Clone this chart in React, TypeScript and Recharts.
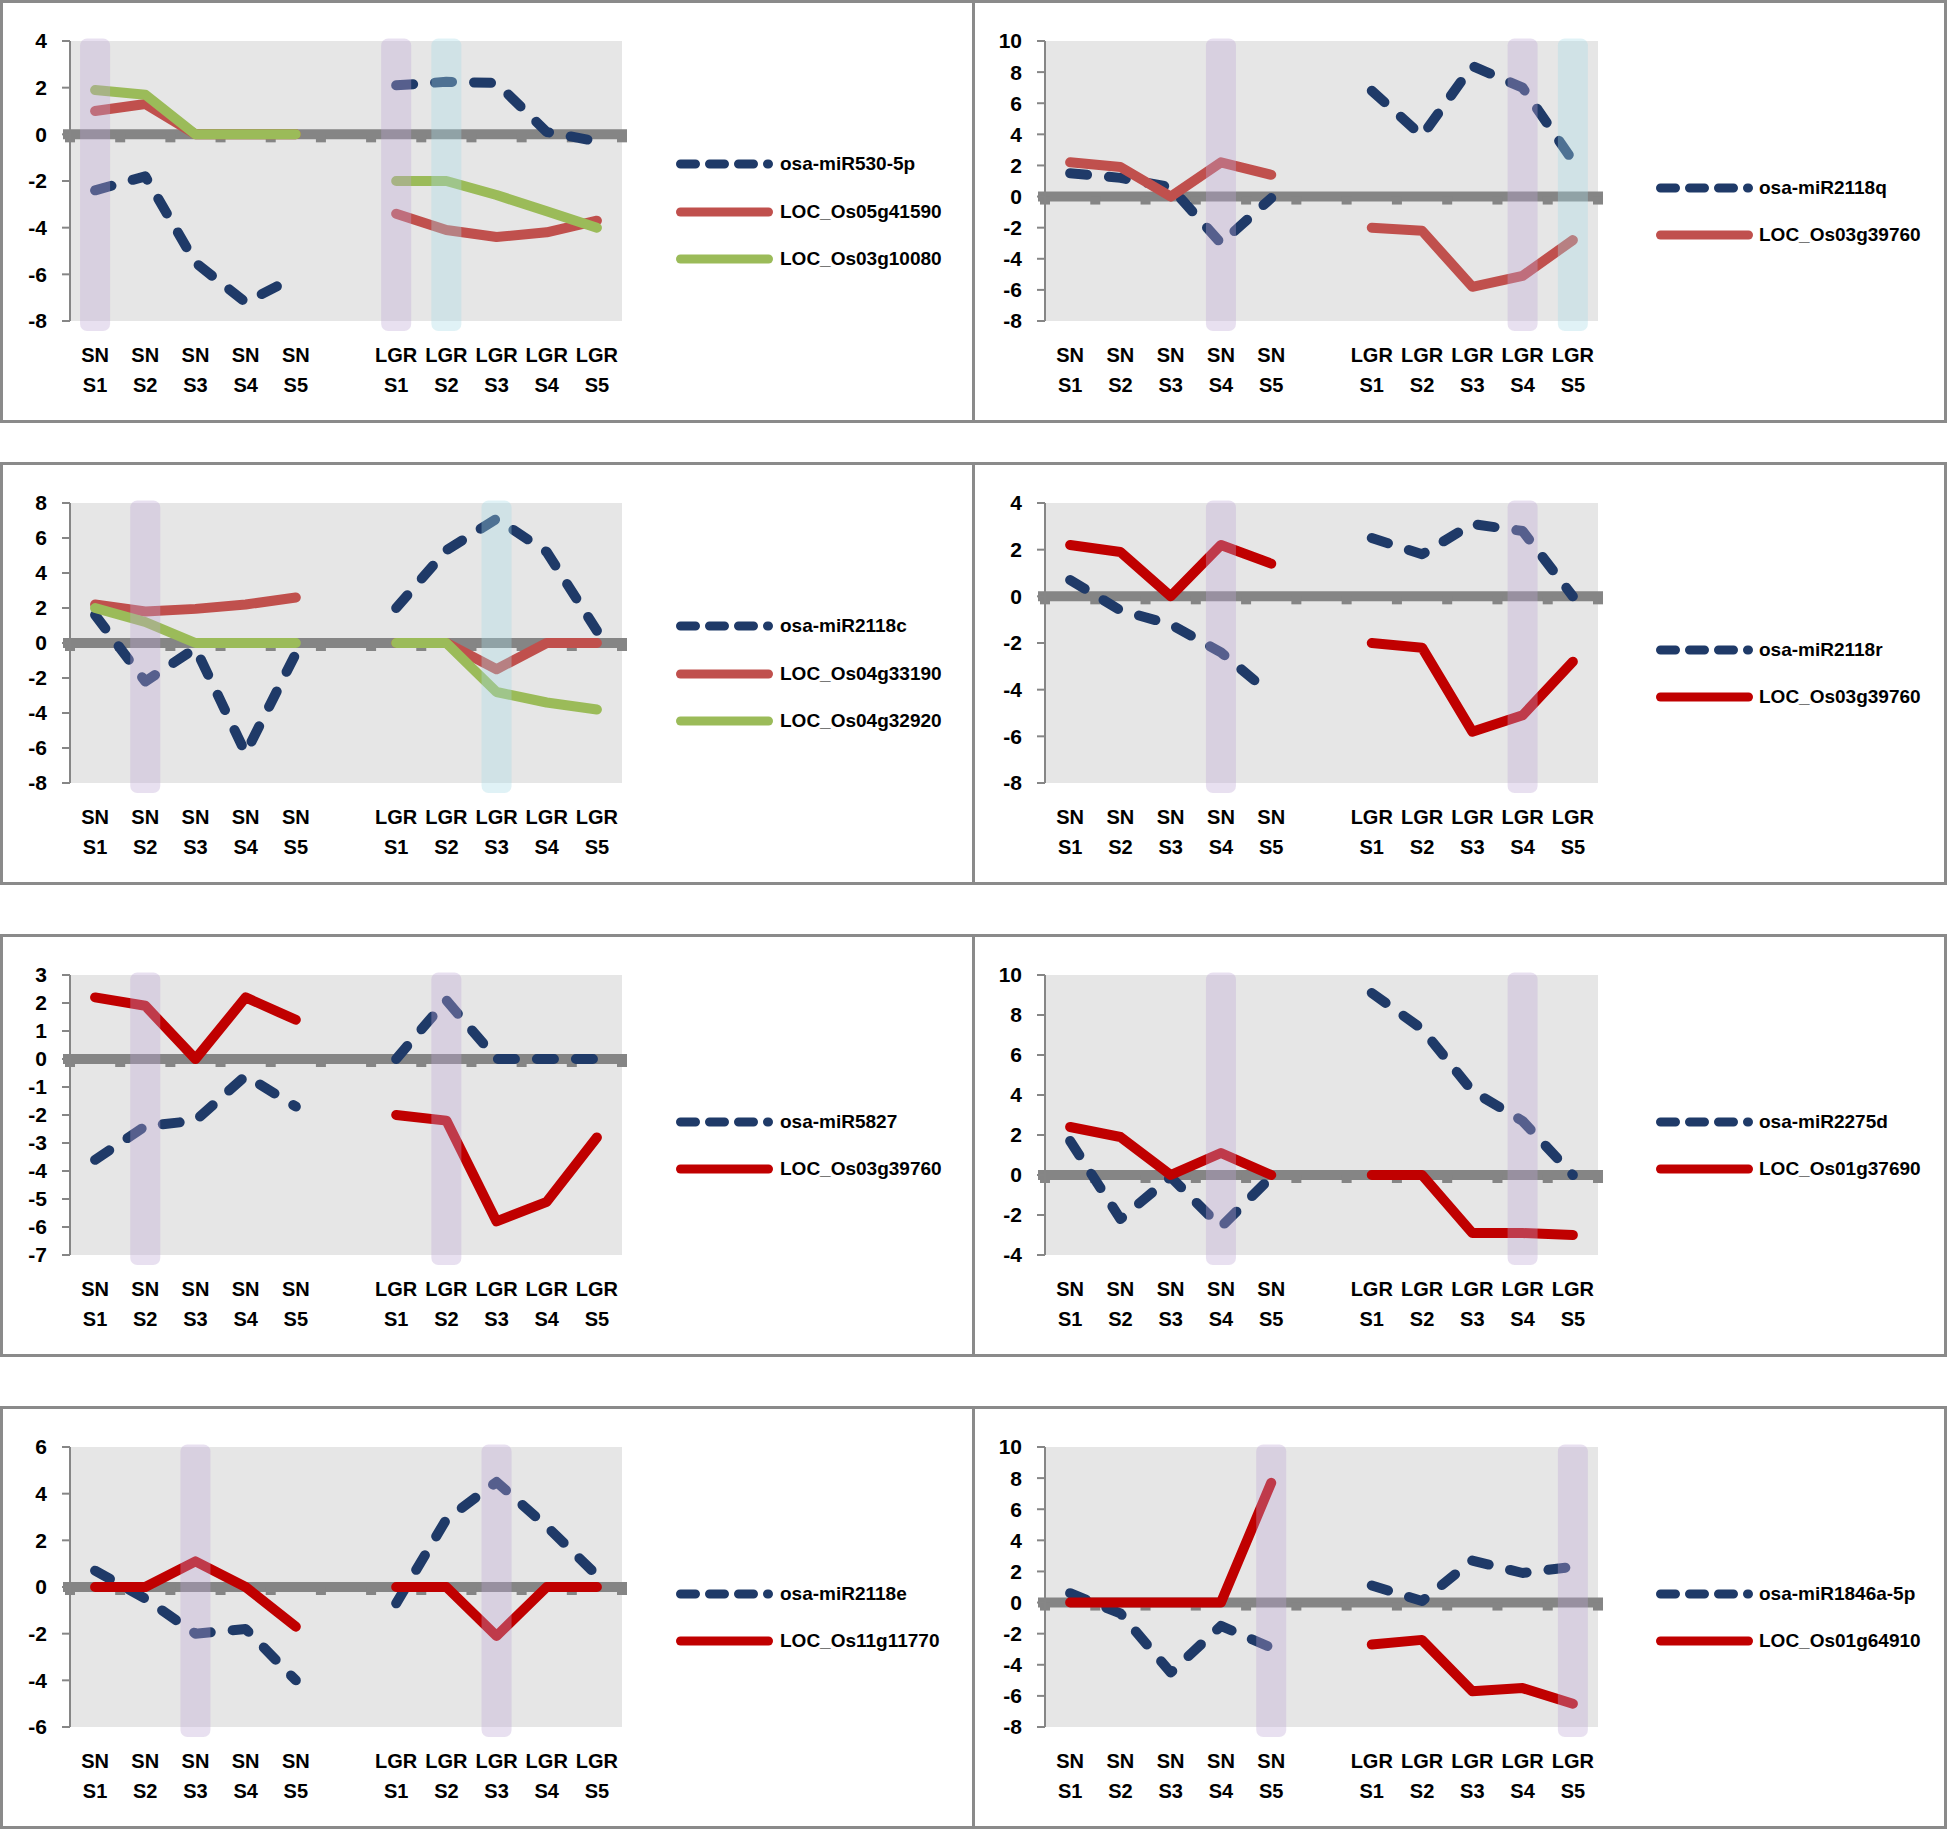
import React from 'react';
import { LineChart, Line, XAxis, YAxis, CartesianGrid, ReferenceLine, ReferenceArea } from 'recharts';

// ---------- data ----------
const categories = ['SN S1', 'SN S2', 'SN S3', 'SN S4', 'SN S5', '', 'LGR S1', 'LGR S2', 'LGR S3', 'LGR S4', 'LGR S5'];

// panel 1
const miR530_5p = [-2.4, -1.8, -5.5, -7.2, -6.1, null, 2.1, 2.25, 2.2, 0.1, -0.3];
const LOC_Os05g41590 = [1.0, 1.3, 0, 0, 0, null, -3.4, -4.1, -4.4, -4.2, -3.7];
const LOC_Os03g10080 = [1.9, 1.7, 0, 0, 0, null, -2.0, -2.0, -2.6, -3.3, -4.0];
const ticks1 = [-8, -6, -4, -2, 0, 2, 4];

// panel 2
const miR2118q = [1.5, 1.2, 0.6, -3.0, -0.1, null, 6.8, 3.9, 8.4, 7.0, 2.3];
const LOC_Os03g39760 = [2.2, 1.9, 0, 2.2, 1.4, null, -2.0, -2.2, -5.8, -5.1, -2.8];
const ticks2 = [-8, -6, -4, -2, 0, 2, 4, 6, 8, 10];

// panel 3
const miR2118c = [1.6, -2.2, -0.3, -6.3, -0.6, null, 2.0, 5.3, 7.1, 5.2, 0.7];
const LOC_Os04g33190 = [2.2, 1.8, 1.95, 2.2, 2.6, null, 0, 0, -1.5, 0, 0];
const LOC_Os04g32920 = [2.0, 1.2, 0, 0, 0, null, 0, 0, -2.8, -3.4, -3.8];
const ticks3 = [-8, -6, -4, -2, 0, 2, 4, 6, 8];

// panel 4
const miR2118r = [0.7, -0.6, -1.2, -2.4, -4.2, null, 2.5, 1.8, 3.1, 2.8, 0];
const ticks4 = [-8, -6, -4, -2, 0, 2, 4];

// panel 5
const miR5827 = [-3.6, -2.4, -2.2, -0.6, -1.7, null, 0, 2.1, 0, 0, 0];
const ticks5 = [-7, -6, -5, -4, -3, -2, -1, 0, 1, 2, 3];

// panel 6
const miR2275d = [1.7, -2.2, -0.1, -2.6, -0.1, null, 9.1, 7.3, 4.2, 2.7, 0];
const LOC_Os01g37690 = [2.4, 1.9, 0, 1.1, 0, null, 0, 0, -2.9, -2.9, -3.0];
const ticks6 = [-4, -2, 0, 2, 4, 6, 8, 10];

// panel 7
const miR2118e = [0.7, -0.5, -2.0, -1.8, -4.0, null, -0.7, 2.9, 4.5, 2.6, 0.5];
const LOC_Os11g11770 = [0, 0, 1.1, 0, -1.7, null, 0, 0, -2.1, 0, 0];
const ticks7 = [-6, -4, -2, 0, 2, 4, 6];

// panel 8
const miR1846a_5p = [0.6, -0.7, -4.5, -1.5, -2.9, null, 1.1, 0.1, 2.7, 1.9, 2.3];
const LOC_Os01g64910 = [0, 0, 0, 0, 7.7, null, -2.7, -2.4, -5.7, -5.5, -6.5];
const ticks8 = [-8, -6, -4, -2, 0, 2, 4, 6, 8, 10];

// highlighted stages
const hl1 = [{ cat: 'SN S1', kind: 'p' }, { cat: 'LGR S1', kind: 'p' }, { cat: 'LGR S2', kind: 'b' }];
const hl2 = [{ cat: 'SN S4', kind: 'p' }, { cat: 'LGR S4', kind: 'p' }, { cat: 'LGR S5', kind: 'b' }];
const hl3 = [{ cat: 'SN S2', kind: 'p' }, { cat: 'LGR S3', kind: 'b' }];
const hl4 = [{ cat: 'SN S4', kind: 'p' }, { cat: 'LGR S4', kind: 'p' }];
const hl5 = [{ cat: 'SN S2', kind: 'p' }, { cat: 'LGR S2', kind: 'p' }];
const hl6 = [{ cat: 'SN S4', kind: 'p' }, { cat: 'LGR S4', kind: 'p' }];
const hl7 = [{ cat: 'SN S3', kind: 'p' }, { cat: 'LGR S3', kind: 'p' }];
const hl8 = [{ cat: 'SN S5', kind: 'p' }, { cat: 'LGR S5', kind: 'p' }];

// ---------- styles ----------
const FONT = "'Liberation Sans', Arial, sans-serif";
const NAVY = '#1F3A68';
const RED_L = '#C0504D';
const RED_D = '#C00000';
const GREEN = '#9BBB59';
const LINE_W = 10;
const DASH_PLOT = '17 22';
const DASH_LEG = '15 14';
const BAND = { p: '#BEA7D5', b: '#A7DBE6' } as Record<string, string>;

type Series = { name: string; values: (number | null)[]; color: string; dashed?: boolean };
type PanelCfg = { series: Series[]; ticks: number[]; hl: { cat: string; kind: string }[] };

const panels: PanelCfg[] = [
  {
    series: [
      { name: 'osa-miR530-5p', values: miR530_5p, color: NAVY, dashed: true },
      { name: 'LOC_Os05g41590', values: LOC_Os05g41590, color: RED_L },
      { name: 'LOC_Os03g10080', values: LOC_Os03g10080, color: GREEN },
    ],
    ticks: ticks1,
    hl: hl1,
  },
  {
    series: [
      { name: 'osa-miR2118q', values: miR2118q, color: NAVY, dashed: true },
      { name: 'LOC_Os03g39760', values: LOC_Os03g39760, color: RED_L },
    ],
    ticks: ticks2,
    hl: hl2,
  },
  {
    series: [
      { name: 'osa-miR2118c', values: miR2118c, color: NAVY, dashed: true },
      { name: 'LOC_Os04g33190', values: LOC_Os04g33190, color: RED_L },
      { name: 'LOC_Os04g32920', values: LOC_Os04g32920, color: GREEN },
    ],
    ticks: ticks3,
    hl: hl3,
  },
  {
    series: [
      { name: 'osa-miR2118r', values: miR2118r, color: NAVY, dashed: true },
      { name: 'LOC_Os03g39760', values: LOC_Os03g39760, color: RED_D },
    ],
    ticks: ticks4,
    hl: hl4,
  },
  {
    series: [
      { name: 'osa-miR5827', values: miR5827, color: NAVY, dashed: true },
      { name: 'LOC_Os03g39760', values: LOC_Os03g39760, color: RED_D },
    ],
    ticks: ticks5,
    hl: hl5,
  },
  {
    series: [
      { name: 'osa-miR2275d', values: miR2275d, color: NAVY, dashed: true },
      { name: 'LOC_Os01g37690', values: LOC_Os01g37690, color: RED_D },
    ],
    ticks: ticks6,
    hl: hl6,
  },
  {
    series: [
      { name: 'osa-miR2118e', values: miR2118e, color: NAVY, dashed: true },
      { name: 'LOC_Os11g11770', values: LOC_Os11g11770, color: RED_D },
    ],
    ticks: ticks7,
    hl: hl7,
  },
  {
    series: [
      { name: 'osa-miR1846a-5p', values: miR1846a_5p, color: NAVY, dashed: true },
      { name: 'LOC_Os01g64910', values: LOC_Os01g64910, color: RED_D },
    ],
    ticks: ticks8,
    hl: hl8,
  },
];

const ROW_TOPS = [0, 462, 934, 1406];
const COL_LEFTS = [0, 972];
const PANEL_W = 975;
const PANEL_H = 423;
const PLOT_TOP = 41;
const PLOT_H = 280;
const COLS = [
  { plotLeft: 70, plotW: 552, legLeft: 676, textLeft: 780 },
  { plotLeft: 73, plotW: 553, legLeft: 684, textLeft: 787 },
];

const XTick = (props: any) => {
  const { x, y, payload } = props;
  const v: string = payload && payload.value;
  if (!v) return null;
  const [a, b] = v.split(' ');
  return (
    <text x={x} y={y} textAnchor="middle" fontFamily={FONT} fontWeight={700} fontSize={20} fill="#000">
      <tspan x={x} dy={41}>{a}</tspan>
      <tspan x={x} dy={30}>{b}</tspan>
    </text>
  );
};

const makeZeroShape = (n: number) => (props: any) => {
  const { x1, x2, y1 } = props;
  const step = (x2 - x1) / n;
  const marks = [];
  for (let i = 0; i <= n; i++) {
    const cx = x1 + i * step;
    marks.push(<rect key={i} x={cx - 5} y={y1} width={10} height={8} fill="#858585" />);
  }
  return (
    <g>
      <line x1={x1 - 7} x2={x2 + 5} y1={y1} y2={y1} stroke="#858585" strokeWidth={10} />
      {marks}
    </g>
  );
};

const makeBandShape = (color: string) => (props: any) => {
  const { x, y, width, height } = props;
  const cx = x + width / 2;
  return (
    <rect x={cx - 15} y={y - 2.5} width={30} height={height + 12.5} rx={7} ry={7} fill={color} fillOpacity={0.35} />
  );
};

function Panel({ cfg, idx }: { cfg: PanelCfg; idx: number }) {
  const col = idx % 2;
  const row = Math.floor(idx / 2);
  const c = COLS[col];
  const halfBand = c.plotW / categories.length / 2;
  const data = categories.map((cat, i) => {
    const o: Record<string, any> = { cat };
    cfg.series.forEach((s, k) => {
      o['s' + k] = s.values[i];
    });
    return o;
  });
  const yMin = cfg.ticks[0];
  const yMax = cfg.ticks[cfg.ticks.length - 1];
  const n = cfg.series.length;
  return (
    <div style={{ position: 'absolute', left: COL_LEFTS[col], top: ROW_TOPS[row], width: PANEL_W, height: PANEL_H }}>
      <div style={{ position: 'absolute', left: 0, top: 0 }}>
        <LineChart
          width={PANEL_W}
          height={PANEL_H}
          data={data}
          margin={{ top: PLOT_TOP, left: c.plotLeft - 60, right: PANEL_W - c.plotLeft - c.plotW, bottom: PANEL_H - PLOT_TOP - PLOT_H - 60 }}
        >
          <CartesianGrid horizontal={false} vertical={false} fill="#E6E6E6" stroke="none" />
          <ReferenceLine y={0} zIndex={50} shape={makeZeroShape(categories.length)} ifOverflow="visible" />
          <XAxis
            dataKey="cat"
            height={60}
            axisLine={false}
            tickLine={false}
            tickSize={0}
            tickMargin={0}
            interval={0}
            padding={{ left: halfBand, right: halfBand }}
            tick={<XTick />}
          />
          <YAxis
            type="number"
            domain={[yMin, yMax]}
            ticks={cfg.ticks}
            interval={0}
            width={60}
            tickSize={8}
            tickMargin={15}
            axisLine={{ stroke: '#868686', strokeWidth: 2 }}
            tickLine={{ stroke: '#868686', strokeWidth: 2 }}
            tick={{ fill: '#000', fontSize: 21, fontWeight: 700, fontFamily: FONT }}
          />
          {cfg.series.map((s, k) => (
            <Line
              key={s.name}
              type="linear"
              dataKey={'s' + k}
              name={s.name}
              stroke={s.color}
              strokeWidth={LINE_W}
              strokeDasharray={s.dashed ? DASH_PLOT : undefined}
              strokeLinecap="round"
              strokeLinejoin="round"
              dot={false}
              activeDot={false}
              connectNulls={false}
              isAnimationActive={false}
            />
          ))}
          {cfg.hl.map((h) => (
            <ReferenceArea
              key={h.cat}
              x1={h.cat}
              x2={h.cat}
              zIndex={450}
              ifOverflow="visible"
              shape={makeBandShape(BAND[h.kind])}
            />
          ))}
        </LineChart>
      </div>
      {cfg.series.map((s, i) => {
        const cy = PANEL_H / 2 + (i - (n - 1) / 2) * 47.8;
        return (
          <div
            key={s.name}
            style={{ position: 'absolute', left: c.legLeft, top: cy - 15, height: 30, display: 'flex', alignItems: 'center' }}
          >
            <svg width={c.textLeft - c.legLeft} height={30} style={{ display: 'block' }}>
              <line
                x1={4.5}
                x2={97 - 4.5}
                y1={15}
                y2={15}
                stroke={s.color}
                strokeWidth={9}
                strokeLinecap="round"
                strokeDasharray={s.dashed ? DASH_LEG : undefined}
              />
            </svg>
            <span style={{ fontFamily: FONT, fontWeight: 700, fontSize: 19, color: '#000', whiteSpace: 'nowrap', lineHeight: '30px' }}>
              {s.name}
            </span>
          </div>
        );
      })}
      <div
        style={{
          position: 'absolute',
          left: 0,
          top: 0,
          width: PANEL_W,
          height: PANEL_H,
          boxSizing: 'border-box',
          border: '3px solid #8a8a8a',
          pointerEvents: 'none',
        }}
      />
    </div>
  );
}

export default function App() {
  return (
    <div style={{ position: 'absolute', left: 0, top: 0, width: 1948, height: 1829, background: '#fff', overflow: 'hidden' }}>
      {panels.map((p, i) => (
        <Panel key={i} cfg={p} idx={i} />
      ))}
    </div>
  );
}
